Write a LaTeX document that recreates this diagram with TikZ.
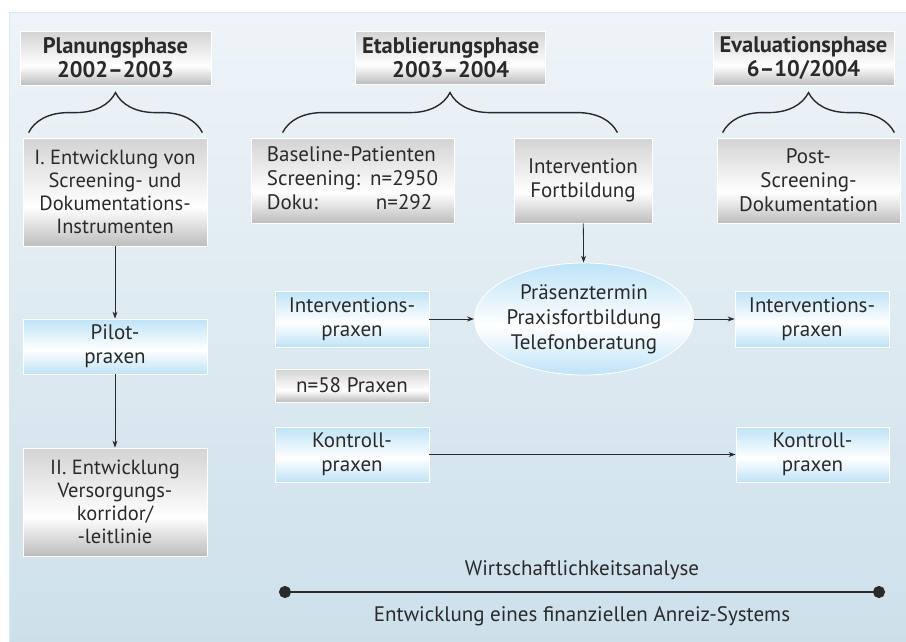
\documentclass[tikz,border=0pt]{standalone}
\usepackage{fontspec}
\setmainfont{PT Sans}
\usetikzlibrary{arrows.meta,shapes.geometric,decorations.pathreplacing}

\definecolor{txt}{HTML}{2A2A2A}
\definecolor{boxblue}{HTML}{BEE3F7}
\definecolor{boxgray}{HTML}{BDBDBD}
\definecolor{boxgraytop}{HTML}{D3D3D3}
\definecolor{bgtop}{HTML}{EEF4F8}
\definecolor{bgbottom}{HTML}{CDE0EA}

% tikz maps 25bp..75bp of a shading onto the path
\pgfdeclareverticalshading{grayband}{100bp}{color(0bp)=(boxgray); color(25bp)=(boxgray); color(43bp)=(white);
  color(75bp)=(boxgraytop); color(100bp)=(boxgraytop)}
\pgfdeclareverticalshading{blueband}{100bp}{color(0bp)=(boxblue); color(25bp)=(boxblue); color(47bp)=(white);
  color(75bp)=(boxblue); color(100bp)=(boxblue)}

\tikzset{
  box/.style={rectangle, draw=white, line width=0.8pt, inner sep=0pt, align=center,
    text=txt, font=\fontsize{21}{24}\selectfont},
  graybox/.style={box, shading=grayband},
  bluebox/.style={box, shading=blueband},
  phasebox/.style={graybox, font=\fontsize{22.5}{24}\selectfont\bfseries},
  bracket/.style={decorate, decoration={brace, amplitude=40pt}, line width=1.4pt, txt},
  arr/.style={-{Stealth[length=7pt,width=5pt]}, line width=0.8pt, txt},
}

\begin{document}
\begin{tikzpicture}[x=1pt, y=-1pt]
  \useasboundingbox (0,0) rectangle (906,641);
  \fill[top color=bgtop, bottom color=bgbottom, draw=boxblue!70] (9,12) rectangle (910,645);

  % phases
  \node[phasebox, minimum width=191pt, minimum height=54pt] (plan) at (115.5,58) {Planungsphase\\2002--2003};
  \node[phasebox, minimum width=190pt, minimum height=53pt] (etab) at (450.7,57.5) {Etablierungsphase\\2003--2004};
  \node[phasebox, minimum width=181pt, minimum height=54pt] (eval) at (803.5,58) {Evaluationsphase\\6--10/2004};

  % second row
  \node[graybox, minimum width=184pt, minimum height=108pt, font=\fontsize{20.5}{23}\selectfont] (dev1) at (115,192)
    {I. Entwicklung von\\Screening- und\\Dokumentations-\\Instrumenten};
  \node[graybox, minimum width=203pt, minimum height=85pt] (base) at (352.5,180.5)
    {\begin{tabular}{@{}l@{\hspace{10pt}}c@{}}
      \multicolumn{2}{@{}l@{}}{Baseline-Patienten}\\
      Screening: & n=2950\\
      Doku: & n=292
    \end{tabular}};
  \node[graybox, minimum width=138pt, minimum height=85pt] (fortb) at (583,180.5) {Intervention\\Fortbildung};
  \node[graybox, minimum width=183pt, minimum height=85pt] (post) at (808.5,180.5) {Post-\\Screening-\\Dokumentation};

  \draw[bracket] ([xshift=6pt,yshift=5pt]dev1.north west) -- ([xshift=-5pt,yshift=5pt]dev1.north east);
  \draw[bracket] ([xshift=32pt,yshift=5pt]base.north west) -- ([xshift=-35pt,yshift=5pt]fortb.north east);
  \draw[bracket] ([xshift=6pt,yshift=5pt]post.north west) -- ([xshift=-6pt,yshift=5pt]post.north east);

  % left column
  \node[bluebox, minimum width=184pt, minimum height=55pt] (pilot) at (115,346.5) {Pilot-\\praxen};
  \node[graybox, minimum width=184pt, minimum height=108pt, font=\fontsize{20.5}{23}\selectfont] (dev2) at (115,502)
    {II. Entwicklung\\Versorgungs-\\korridor/\\-leitlinie};

  % practices
  \node[ellipse, draw=white, line width=0.8pt, shading=blueband, inner sep=0pt, align=center, text=txt,
    font=\fontsize{21}{25}\selectfont, minimum width=206pt, minimum height=112pt] (train) at (584,319)
    {Präsenztermin\\Praxisfortbildung\\Telefonberatung};
  \node[bluebox, minimum width=154pt, minimum height=56pt] (intL) at (352,319) {Interventions-\\praxen};
  \node[bluebox, minimum width=154pt, minimum height=56pt] (intR) at (812,319) {Interventions-\\praxen};
  \node[graybox, minimum width=154pt, minimum height=33pt] (nprax) at (352,385.5) {n=58 Praxen};
  \node[bluebox, minimum width=154pt, minimum height=55pt] (kontL) at (352,454.5) {Kontroll-\\praxen};
  \node[bluebox, minimum width=153pt, minimum height=55pt] (kontR) at (812.5,454.5) {Kontroll-\\praxen};

  \draw[arr] (dev1) -- (pilot);
  \draw[arr] (pilot) -- (dev2);
  \draw[arr] (fortb) -- (train);
  \draw[arr] (intL) -- (train);
  \draw[arr] (train) -- (intR);
  \draw[arr] (kontL) -- (kontR);

  % economics
  \coordinate (econL) at (279,592);
  \coordinate (econR) at (885,592);
  \draw[{Circle[length=12pt]}-{Circle[length=12pt]}, line width=2.2pt, txt] (econL) -- (econR);
  \node[anchor=base, text=txt, font=\fontsize{21}{24}\selectfont] (wirt) at (582,575) {Wirtschaftlichkeitsanalyse};
  \node[anchor=base, text=txt, font=\fontsize{21}{24}\selectfont] (anreiz) at (582,621) {Entwicklung eines finanziellen Anreiz-Systems};
\end{tikzpicture}
\end{document}
